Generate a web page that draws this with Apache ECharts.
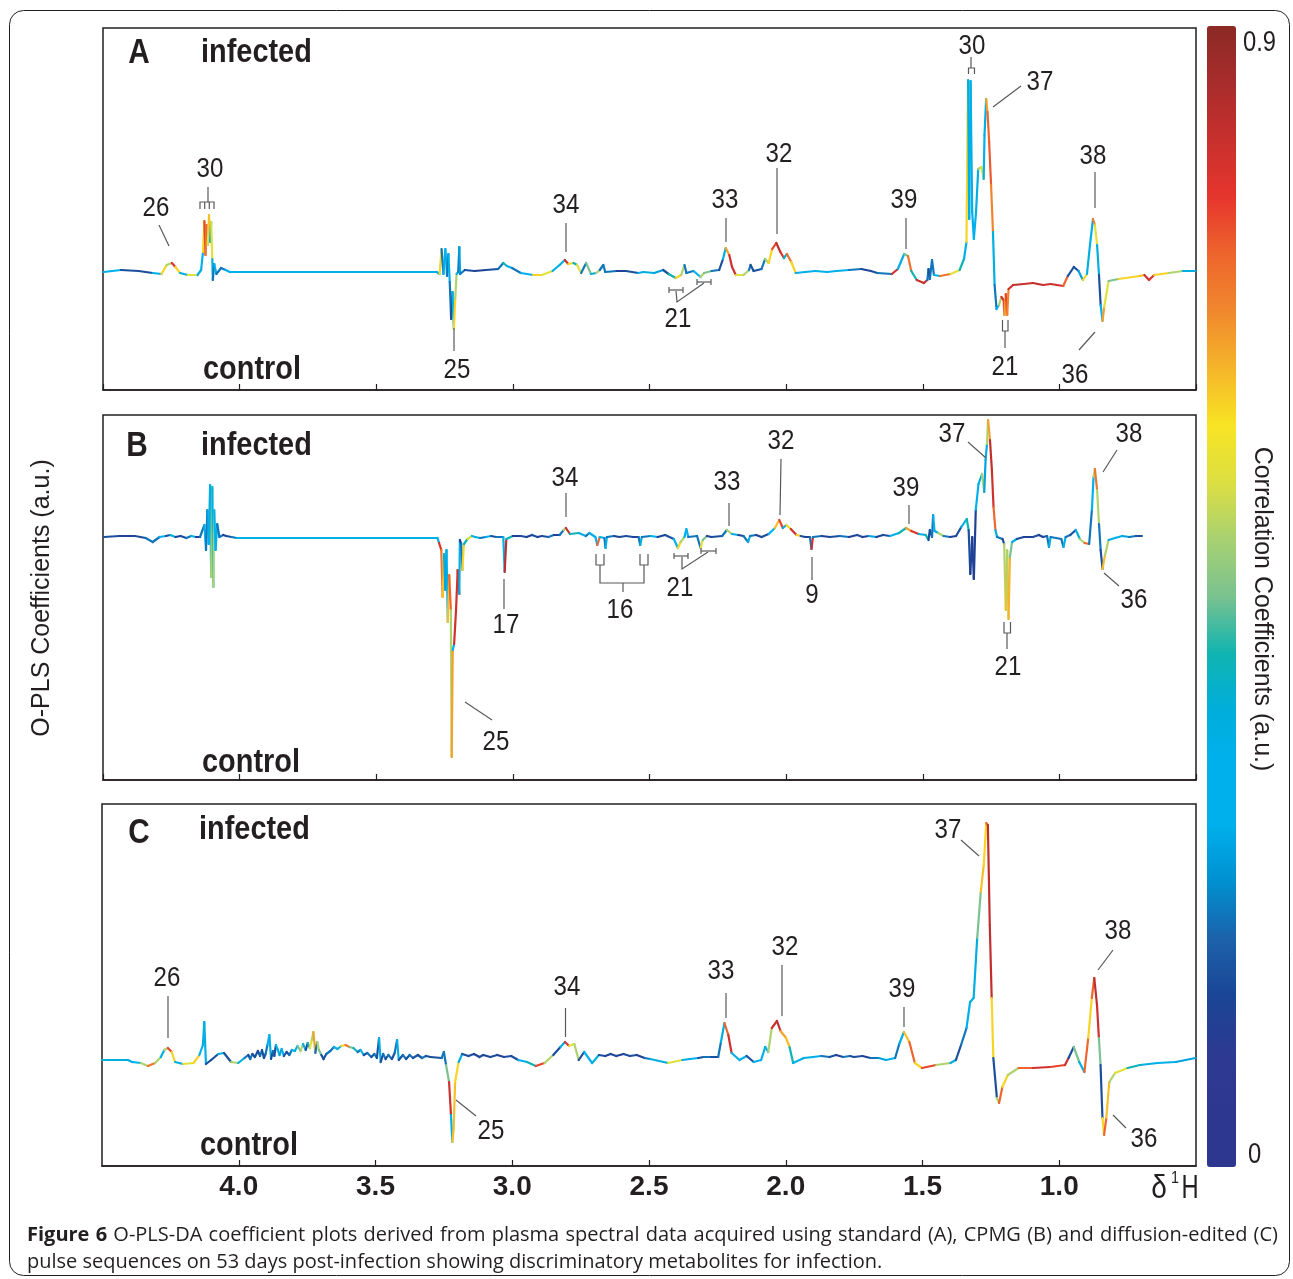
<!DOCTYPE html>
<html>
<head>
<meta charset="utf-8">
<title>O-PLS-DA coefficient plots</title>
<script src="https://cdn.jsdelivr.net/npm/echarts@6/dist/echarts.min.js"></script>
<style>
  html, body { margin: 0; padding: 0; background: #fff; }
  #chart { width: 1293px; height: 1279px; }
</style>
</head>
<body>
<div id="chart"></div>
<script>
// each point: [chemical shift (ppm), O-PLS coefficient (a.u.), correlation coefficient]
const SPEC_A = [
  [4.498,0.00,0.30],[4.434,0.02,0.15],[4.370,0.01,0.15],[4.318,-0.01,0.30],[4.286,-0.02,0.60],[4.267,0.07,0.50],
  [4.248,0.09,0.78],[4.235,0.05,0.60],[4.218,-0.01,0.35],[4.190,-0.03,0.55],[4.154,-0.03,0.35],[4.141,0.02,0.30],
  [4.134,0.20,0.60],[4.129,0.51,0.75],[4.125,0.17,0.70],[4.121,0.47,0.72],[4.117,0.27,0.55],[4.112,0.57,0.62],
  [4.108,0.30,0.33],[4.104,0.50,0.55],[4.100,0.13,0.35],[4.098,-0.08,0.20],[4.093,0.08,0.30],[4.085,-0.02,0.20],
  [4.068,0.04,0.20],[4.051,0.02,0.30],[4.036,0.00,0.33],[3.279,0.00,0.33],[3.268,-0.02,0.60],[3.261,0.23,0.20],
  [3.254,-0.02,0.30],[3.247,0.23,0.30],[3.241,-0.04,0.20],[3.236,0.18,0.33],[3.231,-0.10,0.20],[3.226,-0.47,0.15],
  [3.221,-0.20,0.35],[3.216,-0.57,0.60],[3.211,-0.27,0.50],[3.206,-0.02,0.33],[3.200,0.00,0.20],[3.196,0.25,0.25],
  [3.193,-0.02,0.20],[3.176,0.02,0.15],[3.140,0.01,0.12],[3.099,0.02,0.15],[3.054,0.03,0.20],[3.035,0.09,0.40],
  [3.022,0.06,0.30],[3.003,0.04,0.20],[2.971,-0.01,0.30],[2.926,-0.03,0.60],[2.894,-0.03,0.55],[2.855,0.01,0.33],
  [2.829,0.07,0.35],[2.810,0.12,0.80],[2.797,0.08,0.60],[2.778,0.09,0.40],[2.765,0.07,0.55],[2.750,-0.01,0.20],
  [2.732,0.09,0.45],[2.714,-0.02,0.35],[2.695,-0.01,0.50],[2.682,0.02,0.20],[2.669,0.07,0.20],[2.662,0.00,0.20],
  [2.620,0.01,0.12],[2.586,0.01,0.15],[2.541,-0.01,0.30],[2.522,0.00,0.35],[2.483,-0.01,0.25],[2.450,0.02,0.15],
  [2.430,-0.02,0.40],[2.404,-0.06,0.60],[2.384,-0.03,0.50],[2.372,0.07,0.20],[2.365,-0.01,0.20],[2.339,0.01,0.30],
  [2.313,-0.05,0.50],[2.300,-0.01,0.45],[2.273,0.01,0.20],[2.245,0.02,0.15],[2.231,0.13,0.35],[2.221,0.24,0.65],
  [2.208,0.17,0.80],[2.198,0.05,0.80],[2.184,-0.03,0.55],[2.156,-0.03,0.50],[2.136,0.02,0.20],[2.130,0.07,0.15],
  [2.119,0.01,0.15],[2.090,0.03,0.20],[2.077,0.13,0.50],[2.064,0.09,0.60],[2.051,0.23,0.75],[2.036,0.29,0.82],
  [2.021,0.20,0.78],[2.008,0.14,0.38],[1.997,0.18,0.70],[1.981,0.10,0.60],[1.965,-0.01,0.33],[1.930,0.00,0.30],
  [1.894,0.01,0.33],[1.850,0.00,0.30],[1.816,0.01,0.33],[1.770,0.02,0.20],[1.725,0.03,0.12],[1.690,0.01,0.15],
  [1.666,-0.01,0.20],[1.613,-0.02,0.80],[1.591,0.03,0.35],[1.568,0.18,0.45],[1.554,0.16,0.70],[1.542,0.01,0.40],
  [1.522,-0.08,0.80],[1.496,-0.11,0.82],[1.483,-0.08,0.20],[1.479,0.03,0.15],[1.474,-0.07,0.20],[1.466,0.12,0.20],
  [1.459,-0.03,0.30],[1.437,-0.04,0.70],[1.398,-0.02,0.55],[1.365,0.02,0.40],[1.349,0.13,0.33],[1.340,0.30,0.60],
  [1.336,1.47,0.60],[1.334,1.92,0.35],[1.330,0.53,0.33],[1.325,1.91,0.33],[1.319,0.60,0.33],[1.313,0.33,0.30],
  [1.305,0.60,0.35],[1.297,1.03,0.50],[1.285,1.05,0.55],[1.277,0.93,0.30],[1.274,1.37,0.35],[1.268,1.73,0.65],
  [1.263,1.60,0.72],[1.257,1.30,0.73],[1.250,0.87,0.68],[1.243,0.40,0.35],[1.237,-0.13,0.20],[1.230,-0.37,0.30],
  [1.221,-0.33,0.50],[1.212,-0.25,0.80],[1.204,-0.28,0.75],[1.201,-0.43,0.65],[1.196,-0.22,0.75],[1.191,-0.43,0.68],
  [1.186,-0.17,0.80],[1.169,-0.13,0.82],[1.130,-0.12,0.80],[1.097,-0.11,0.82],[1.060,-0.13,0.80],[1.032,-0.12,0.80],
  [0.986,-0.14,0.72],[0.969,-0.04,0.15],[0.947,0.05,0.15],[0.930,0.01,0.25],[0.914,-0.08,0.60],[0.899,-0.02,0.35],
  [0.888,0.27,0.33],[0.877,0.53,0.68],[0.870,0.47,0.55],[0.862,0.27,0.35],[0.855,-0.03,0.15],[0.849,-0.33,0.30],
  [0.842,-0.49,0.65],[0.836,-0.35,0.55],[0.820,-0.09,0.45],[0.783,-0.07,0.60],[0.705,-0.04,0.62],[0.689,-0.03,0.80],
  [0.672,-0.08,0.78],[0.653,-0.03,0.60],[0.600,-0.01,0.50],[0.548,0.01,0.35],[0.502,0.01,0.33]
];

const SPEC_B = [
  [4.496,0.00,0.15],[4.440,0.01,0.12],[4.383,0.01,0.15],[4.344,-0.01,0.20],[4.318,-0.05,0.20],[4.293,0.00,0.30],
  [4.270,0.01,0.15],[4.254,0.02,0.35],[4.235,0.00,0.12],[4.216,0.01,0.15],[4.195,-0.01,0.20],[4.177,0.01,0.30],
  [4.160,0.00,0.12],[4.145,0.00,0.20],[4.129,0.12,0.30],[4.123,-0.13,0.20],[4.118,0.27,0.25],[4.113,-0.07,0.33],
  [4.108,0.52,0.33],[4.104,-0.40,0.50],[4.100,0.50,0.33],[4.096,-0.50,0.50],[4.093,0.27,0.30],[4.088,-0.13,0.33],
  [4.082,0.13,0.20],[4.074,0.00,0.20],[4.060,0.02,0.12],[4.049,0.01,0.15],[4.030,0.00,0.20],[4.010,-0.01,0.33],
  [3.276,-0.01,0.33],[3.270,-0.06,0.78],[3.262,-0.13,0.70],[3.257,-0.60,0.62],[3.252,-0.17,0.35],[3.247,-0.53,0.25],
  [3.243,-0.13,0.33],[3.238,-0.85,0.62],[3.233,-0.38,0.72],[3.227,-0.73,0.50],[3.224,-2.20,0.65],[3.220,-1.13,0.33],
  [3.215,-1.07,0.80],[3.208,-0.73,0.80],[3.202,-0.33,0.80],[3.196,-0.57,0.33],[3.194,-0.03,0.12],[3.189,-0.07,0.20],
  [3.185,-0.33,0.60],[3.179,-0.07,0.40],[3.166,-0.02,0.55],[3.150,0.01,0.30],[3.138,0.00,0.35],[3.120,-0.01,0.20],
  [3.099,0.00,0.30],[3.080,0.01,0.15],[3.061,0.00,0.20],[3.035,0.00,0.33],[3.030,-0.35,0.82],[3.024,-0.02,0.40],
  [3.000,0.01,0.12],[2.971,0.01,0.15],[2.950,0.00,0.12],[2.930,0.02,0.15],[2.910,0.00,0.12],[2.894,0.01,0.15],
  [2.870,0.00,0.20],[2.850,0.02,0.12],[2.829,0.02,0.20],[2.814,0.07,0.50],[2.806,0.09,0.82],[2.791,0.03,0.40],
  [2.759,0.04,0.35],[2.733,0.01,0.20],[2.720,0.04,0.33],[2.698,0.00,0.30],[2.691,-0.08,0.72],[2.682,0.00,0.30],
  [2.665,-0.01,0.20],[2.661,-0.11,0.33],[2.656,0.00,0.20],[2.630,0.01,0.12],[2.610,0.00,0.15],[2.586,0.01,0.15],
  [2.560,0.00,0.12],[2.540,0.00,0.20],[2.534,-0.08,0.35],[2.528,0.00,0.20],[2.496,0.01,0.30],[2.470,0.00,0.12],
  [2.443,0.02,0.15],[2.411,-0.02,0.30],[2.396,-0.11,0.60],[2.386,-0.05,0.50],[2.372,0.00,0.30],[2.365,0.08,0.33],
  [2.358,0.00,0.20],[2.326,0.01,0.20],[2.313,-0.11,0.55],[2.305,-0.03,0.45],[2.290,0.01,0.12],[2.273,0.00,0.15],
  [2.234,0.01,0.20],[2.217,0.07,0.50],[2.198,0.03,0.33],[2.175,0.02,0.12],[2.156,0.01,0.20],[2.139,-0.05,0.33],
  [2.132,0.01,0.20],[2.110,0.02,0.12],[2.090,0.00,0.15],[2.064,0.03,0.30],[2.041,0.09,0.62],[2.025,0.17,0.75],
  [2.012,0.09,0.35],[1.999,0.12,0.60],[1.983,0.08,0.80],[1.962,0.02,0.60],[1.947,0.01,0.15],[1.930,0.00,0.12],
  [1.913,0.00,0.20],[1.907,-0.12,0.80],[1.902,0.00,0.20],[1.870,0.01,0.12],[1.840,0.00,0.15],[1.803,0.01,0.20],
  [1.770,0.00,0.12],[1.740,0.02,0.15],[1.720,0.00,0.12],[1.698,0.01,0.25],[1.670,0.00,0.12],[1.645,0.02,0.15],
  [1.620,0.01,0.30],[1.587,0.04,0.40],[1.561,0.09,0.65],[1.542,0.06,0.78],[1.515,0.03,0.35],[1.489,0.02,0.40],
  [1.479,-0.03,0.15],[1.474,0.07,0.15],[1.466,0.00,0.20],[1.462,0.22,0.33],[1.457,0.06,0.33],[1.443,0.04,0.50],
  [1.424,0.01,0.20],[1.400,0.00,0.12],[1.378,0.01,0.15],[1.359,0.10,0.33],[1.339,0.18,0.40],[1.332,0.07,0.15],
  [1.326,-0.37,0.12],[1.319,0.00,0.12],[1.313,-0.42,0.12],[1.306,0.27,0.30],[1.296,0.53,0.35],[1.283,0.63,0.50],
  [1.275,0.45,0.25],[1.270,0.77,0.35],[1.265,0.93,0.50],[1.261,1.17,0.65],[1.254,0.97,0.82],[1.247,0.67,0.80],
  [1.241,0.30,0.72],[1.234,0.07,0.35],[1.228,0.00,0.20],[1.208,-0.02,0.15],[1.202,-0.07,0.50],[1.196,-0.73,0.62],
  [1.191,-0.13,0.50],[1.186,-0.82,0.63],[1.181,-0.20,0.45],[1.173,-0.05,0.33],[1.156,-0.02,0.15],[1.130,0.00,0.12],
  [1.097,0.00,0.15],[1.075,0.02,0.12],[1.060,0.00,0.15],[1.045,0.01,0.20],[1.038,-0.10,0.35],[1.032,0.00,0.20],
  [0.993,-0.02,0.20],[0.985,-0.10,0.33],[0.977,0.00,0.20],[0.960,0.02,0.15],[0.940,0.07,0.35],[0.925,-0.02,0.50],
  [0.908,-0.06,0.72],[0.891,-0.07,0.20],[0.881,0.27,0.30],[0.875,0.60,0.50],[0.870,0.68,0.70],[0.862,0.47,0.50],
  [0.855,0.13,0.20],[0.849,-0.13,0.15],[0.842,-0.32,0.62],[0.833,-0.18,0.50],[0.820,-0.03,0.33],[0.796,-0.01,0.30],
  [0.770,0.01,0.25],[0.744,0.00,0.20],[0.720,0.01,0.15],[0.698,0.01,0.20]
];

const SPEC_C = [
  [4.500,0.00,0.35],[4.405,0.00,0.35],[4.390,-0.02,0.30],[4.358,-0.03,0.50],[4.332,-0.06,0.70],[4.306,-0.03,0.50],
  [4.285,0.03,0.35],[4.272,0.10,0.50],[4.259,0.12,0.75],[4.245,0.08,0.60],[4.233,-0.02,0.35],[4.204,-0.04,0.55],
  [4.165,-0.03,0.60],[4.144,0.05,0.30],[4.131,0.15,0.35],[4.126,0.38,0.33],[4.120,-0.04,0.15],[4.101,0.00,0.15],
  [4.075,0.06,0.30],[4.054,0.07,0.15],[4.028,-0.02,0.50],[4.002,-0.03,0.35],[3.979,0.02,0.20],[3.965,0.05,0.15],
  [3.958,0.01,0.20],[3.950,0.06,0.15],[3.941,0.03,0.15],[3.930,0.09,0.15],[3.922,0.04,0.20],[3.915,0.10,0.15],
  [3.908,0.02,0.15],[3.902,0.06,0.20],[3.895,0.15,0.30],[3.888,0.25,0.33],[3.882,0.01,0.15],[3.875,0.09,0.20],
  [3.870,0.04,0.15],[3.864,0.15,0.33],[3.857,0.10,0.30],[3.851,0.05,0.25],[3.843,0.11,0.33],[3.835,0.04,0.15],
  [3.825,0.08,0.15],[3.815,0.05,0.20],[3.806,0.10,0.30],[3.795,0.09,0.35],[3.785,0.14,0.45],[3.774,0.09,0.50],
  [3.765,0.16,0.35],[3.755,0.10,0.15],[3.748,0.17,0.40],[3.740,0.12,0.55],[3.733,0.20,0.50],[3.727,0.28,0.65],
  [3.720,0.07,0.20],[3.713,0.18,0.50],[3.707,0.10,0.45],[3.698,0.05,0.15],[3.690,0.01,0.15],[3.680,0.06,0.20],
  [3.665,0.09,0.20],[3.652,0.13,0.35],[3.639,0.11,0.35],[3.625,0.14,0.60],[3.610,0.15,0.70],[3.595,0.13,0.45],
  [3.581,0.12,0.40],[3.565,0.08,0.20],[3.555,0.10,0.30],[3.543,0.05,0.15],[3.530,0.07,0.20],[3.515,0.03,0.15],
  [3.504,0.06,0.20],[3.495,0.02,0.15],[3.487,0.22,0.33],[3.481,-0.02,0.15],[3.472,0.06,0.20],[3.463,0.01,0.15],
  [3.453,0.05,0.20],[3.440,0.01,0.15],[3.430,0.07,0.20],[3.421,0.20,0.33],[3.415,0.00,0.15],[3.400,0.05,0.20],
  [3.388,0.01,0.15],[3.375,0.05,0.20],[3.363,0.02,0.15],[3.345,0.05,0.15],[3.330,0.02,0.20],[3.315,0.04,0.15],
  [3.299,0.03,0.15],[3.258,0.02,0.20],[3.250,0.08,0.20],[3.242,-0.05,0.45],[3.231,-0.22,0.80],[3.224,-0.55,0.33],
  [3.219,-0.82,0.62],[3.214,-0.68,0.62],[3.209,-0.22,0.60],[3.196,-0.02,0.35],[3.183,0.06,0.15],[3.160,0.04,0.15],
  [3.140,0.06,0.12],[3.120,0.03,0.15],[3.106,0.05,0.12],[3.080,0.03,0.15],[3.055,0.05,0.12],[3.030,0.03,0.15],
  [3.004,0.04,0.15],[2.978,0.00,0.30],[2.946,-0.02,0.40],[2.914,-0.06,0.75],[2.882,-0.03,0.50],[2.850,0.05,0.15],
  [2.824,0.13,0.35],[2.807,0.18,0.78],[2.792,0.14,0.55],[2.773,0.16,0.50],[2.757,0.00,0.15],[2.737,0.08,0.30],
  [2.708,-0.03,0.35],[2.683,0.05,0.15],[2.660,0.04,0.12],[2.640,0.06,0.15],[2.620,0.04,0.12],[2.593,0.06,0.15],
  [2.570,0.04,0.15],[2.545,0.05,0.12],[2.516,0.02,0.20],[2.496,0.01,0.35],[2.430,-0.03,0.55],[2.378,0.00,0.35],
  [2.350,0.01,0.30],[2.320,0.02,0.15],[2.300,0.03,0.20],[2.273,0.03,0.15],[2.247,0.03,0.20],[2.237,0.18,0.35],
  [2.224,0.37,0.72],[2.210,0.25,0.80],[2.198,0.07,0.35],[2.169,0.00,0.30],[2.143,0.04,0.15],[2.117,-0.02,0.30],
  [2.090,0.00,0.30],[2.075,0.13,0.35],[2.064,0.08,0.50],[2.051,0.32,0.80],[2.032,0.39,0.82],[2.019,0.29,0.65],
  [1.999,0.22,0.62],[1.986,0.13,0.40],[1.973,-0.03,0.33],[1.934,0.02,0.35],[1.900,0.03,0.30],[1.870,0.04,0.20],
  [1.840,0.03,0.15],[1.816,0.05,0.12],[1.790,0.03,0.20],[1.765,0.04,0.15],[1.751,0.03,0.15],[1.720,0.04,0.12],
  [1.690,0.02,0.20],[1.660,0.02,0.25],[1.633,0.00,0.30],[1.600,0.02,0.20],[1.585,0.16,0.35],[1.568,0.28,0.62],
  [1.548,0.18,0.72],[1.528,-0.03,0.60],[1.502,-0.08,0.75],[1.450,-0.05,0.50],[1.398,-0.03,0.35],[1.378,0.00,0.15],
  [1.359,0.15,0.20],[1.339,0.32,0.30],[1.326,0.58,0.33],[1.313,0.62,0.35],[1.300,1.22,0.45],[1.287,1.68,0.62],
  [1.276,1.95,0.60],[1.267,2.37,0.72],[1.261,2.35,0.82],[1.254,1.35,0.82],[1.247,0.62,0.60],[1.241,0.02,0.15],
  [1.228,-0.38,0.50],[1.220,-0.43,0.72],[1.208,-0.27,0.60],[1.188,-0.15,0.50],[1.149,-0.08,0.72],[1.097,-0.08,0.80],
  [1.032,-0.07,0.75],[0.979,-0.05,0.80],[0.966,0.02,0.15],[0.947,0.13,0.45],[0.927,-0.02,0.35],[0.908,-0.12,0.72],
  [0.894,0.22,0.60],[0.881,0.62,0.72],[0.872,0.82,0.82],[0.862,0.55,0.80],[0.855,0.22,0.45],[0.849,-0.05,0.15],
  [0.842,-0.58,0.60],[0.836,-0.75,0.72],[0.828,-0.58,0.62],[0.817,-0.22,0.50],[0.796,-0.13,0.55],[0.750,-0.08,0.40],
  [0.705,-0.05,0.35],[0.640,-0.03,0.30],[0.574,-0.02,0.25],[0.502,0.02,0.25]
];

const TICK_LABELS = ['4.0', '3.5', '3.0', '2.5', '2.0', '1.5', '1.0'];
const CORR_LABELS = ['0.9', '0'];
const PANEL_NAMES = ['A', 'B', 'C'];
const CAPTION = [
  'Figure 6 O-PLS-DA coefficient plots derived from plasma spectral data acquired using standard (A), CPMG (B) and diffusion-edited (C)',
  'pulse sequences on 53 days post-infection showing discriminatory metabolites for infection.'
];

const INK = '#231f20';
const LEAD = '#58595b';
const SANS = '"Liberation Sans", Arial, sans-serif';
const CAPTION_FONT = '"Open Sans", "Noto Sans", sans-serif';

// jet-like colour scale, 0 -> 0.9
const JET = ['#2e3790', '#2e3790', '#2d3a92', '#1a4596', '#1c62aa', '#0090d0', '#00b0ec',
  '#00b0ec', '#00aedc', '#10b4b0', '#7ac290', '#a8d172', '#dcdf42', '#f8e424', '#f5b52a',
  '#f0882d', '#ee652d', '#e6352d', '#c8302d', '#a82c2c', '#8b2a24'];

const chart = echarts.init(document.getElementById('chart'));

const grids = [
  { left: 103, top: 28, width: 1093, height: 362 },
  { left: 103, top: 415, width: 1093, height: 365 },
  { left: 102, top: 804, width: 1094, height: 362 }
];
const yRanges = [[-1.18, 2.44], [-2.43, 1.22], [-1.06, 2.56]];
const specs = [SPEC_A, SPEC_B, SPEC_C];

// one short line per pair of neighbouring points, coloured by correlation
function segments(spec) {
  return function (params, api) {
    const i = params.dataIndex;
    if (i >= spec.length - 1) return null;
    const p0 = api.coord([spec[i][0], spec[i][1]]);
    const p1 = api.coord([spec[i + 1][0], spec[i + 1][1]]);
    return {
      type: 'line',
      shape: { x1: p0[0], y1: p0[1], x2: p1[0], y2: p1[1] },
      style: { stroke: api.visual('color'), lineWidth: 2.2, lineCap: 'round' }
    };
  };
}

// condensed look: Liberation Sans squeezed horizontally
function text(x, y, s, size, opts) {
  opts = opts || {};
  const align = opts.align || 'center';
  return {
    type: 'text', x: x, y: y, z: 100,
    rotation: opts.rotation || 0,
    scaleX: opts.squeeze || 1,
    style: {
      text: s, fill: INK, fontSize: size,
      fontWeight: opts.weight || 'normal',
      fontFamily: opts.family || SANS,
      align: align, verticalAlign: 'middle',
      textAlign: align, textVerticalAlign: 'middle'
    }
  };
}

function path(points, color) {
  return {
    type: 'polyline', z: 100, shape: { points: points },
    style: { stroke: color || LEAD, lineWidth: 1.2, fill: null }
  };
}

// peak labels: [x, y, label]
const peakLabels = [
  [156, 208, '26'], [210, 169, '30'], [457, 370, '25'], [566, 205, '34'], [678, 319, '21'],
  [725, 200, '33'], [779, 154, '32'], [904, 200, '39'], [972, 46, '30'], [1040, 82, '37'],
  [1093, 156, '38'], [1005, 367, '21'], [1075, 375, '36'],
  [565, 478, '34'], [506, 625, '17'], [496, 742, '25'], [620, 610, '16'], [680, 588, '21'],
  [727, 482, '33'], [781, 441, '32'], [812, 595, '9'], [906, 488, '39'], [952, 434, '37'],
  [1129, 434, '38'], [1134, 600, '36'], [1008, 667, '21'],
  [167, 978, '26'], [567, 987, '34'], [491, 1131, '25'], [721, 971, '33'], [785, 947, '32'],
  [902, 989, '39'], [948, 830, '37'], [1118, 931, '38'], [1144, 1139, '36']
];

const leaders = [
  // A
  [[159, 225], [169, 246]],
  [[208, 187], [208, 202]], [[200, 209], [200, 202], [214, 202], [214, 209]],
  [[204.7, 202], [204.7, 209]], [[209.3, 202], [209.3, 209]],
  [[454, 328], [454, 351]],
  [[566, 223], [566, 252]],
  [[669, 290], [683, 290]], [[669, 287], [669, 293]], [[683, 287], [683, 293]],
  [[697, 282], [711, 282]], [[697, 279], [697, 285]], [[711, 279], [711, 285]],
  [[676, 291], [677, 302], [704, 283]],
  [[726, 218], [726, 242]],
  [[777, 168], [777, 234]],
  [[906, 218], [906, 249]],
  [[971, 57], [971, 68]], [[968.5, 74], [968.5, 68], [974.5, 68], [974.5, 74]],
  [[1021, 86], [993, 107]],
  [[1095, 172], [1095, 208]],
  [[1002.5, 320], [1002.5, 331], [1008, 331], [1008, 320]], [[1005, 331], [1005, 348]],
  [[1079, 350], [1095, 332]],
  // B
  [[566, 493], [566, 517]],
  [[504, 579], [504, 609]],
  [[465, 702], [492, 720]],
  [[596, 554], [596, 565], [604, 565], [604, 554]], [[600, 565], [600, 583], [644, 583], [644, 565]],
  [[640, 554], [640, 565], [648, 565], [648, 554]], [[623, 583], [623, 592]],
  [[674, 556], [688, 556]], [[674, 553], [674, 559]], [[688, 553], [688, 559]],
  [[701, 551], [716, 551]], [[701, 548], [701, 554]], [[716, 548], [716, 554]],
  [[682, 557], [682, 569], [708, 552]],
  [[729, 503], [729, 526]],
  [[781, 459], [780, 515]],
  [[812, 557], [812, 580]],
  [[909, 505], [909, 524]],
  [[968, 442], [986, 458]],
  [[1117, 450], [1103, 472]],
  [[1104, 573], [1119, 586]],
  [[1004, 622], [1004, 633], [1010.5, 633], [1010.5, 622]], [[1007, 633], [1007, 649]],
  // C
  [[168, 996], [168, 1038]],
  [[565.5, 1008], [565.5, 1037]],
  [[456, 1100], [476, 1116]],
  [[726, 993], [726, 1018]],
  [[782, 965], [782, 1016]],
  [[904, 1007], [904, 1027]],
  [[961, 840], [979, 856]],
  [[1113, 950], [1098, 970]],
  [[1113, 1115], [1126, 1128]]
];

const panelText = [
  { letter: [139, 53], infected: [201, 53], control: [203, 370] },
  { letter: [137, 446], infected: [201, 446], control: [202, 763] },
  { letter: [139, 833], infected: [199, 830], control: [200, 1146] }
];

const graphics = [
  {
    type: 'rect', z: 0, silent: true,
    shape: { x: 9.5, y: 10.5, width: 1280, height: 1265, r: 14 },
    style: { fill: null, stroke: INK, lineWidth: 1 }
  }
];
panelText.forEach(function (p, k) {
  graphics.push(text(p.letter[0], p.letter[1], PANEL_NAMES[k], 35, { weight: 'bold', squeeze: 0.85 }));
  graphics.push(text(p.infected[0], p.infected[1], 'infected', 34, { weight: 'bold', align: 'left', squeeze: 0.85 }));
  graphics.push(text(p.control[0], p.control[1], 'control', 34, { weight: 'bold', align: 'left', squeeze: 0.85 }));
});
peakLabels.forEach(function (l) { graphics.push(text(l[0], l[1], l[2], 28, { squeeze: 0.86 })); });
leaders.forEach(function (pts) { graphics.push(path(pts)); });

graphics.push(text(42, 598, 'O-PLS Coefficients (a.u.)', 25, { rotation: Math.PI / 2 }));
graphics.push(text(1262, 609, 'Correlation Coefficients (a.u.)', 25, { rotation: -Math.PI / 2 }));
graphics.push(text(1243, 43, CORR_LABELS[0], 29, { align: 'left', squeeze: 0.82 }));
graphics.push(text(1248, 1155, CORR_LABELS[1], 29, { align: 'left', squeeze: 0.82 }));
graphics.push(text(1159, 1189, 'δ', 33, { squeeze: 0.85 }));
graphics.push(text(1175, 1178, '1', 17, { squeeze: 0.85 }));
graphics.push(text(1190, 1189, 'H', 33, { squeeze: 0.72 }));

// caption: first line justified between x = 27 and x = 1278, "Figure 6" in bold
const measureCtx = document.createElement('canvas').getContext('2d');
function wordWidth(w, bold) {
  measureCtx.font = (bold ? 'bold ' : '') + '20px ' + CAPTION_FONT;
  return measureCtx.measureText(w).width;
}
(function () {
  const words = CAPTION[0].split(' ');
  const widths = words.map(function (w, i) { return wordWidth(w, i < 2); });
  const total = widths.reduce(function (a, b) { return a + b; }, 0);
  const gap = (1278 - 27 - total) / (words.length - 1);
  let x = 27;
  words.forEach(function (w, i) {
    graphics.push(text(x, 1235, w, 20, { align: 'left', family: CAPTION_FONT, weight: i < 2 ? 'bold' : 'normal' }));
    x += widths[i] + gap;
  });
  graphics.push(text(27, 1262, CAPTION[1], 20, { align: 'left', family: CAPTION_FONT }));
})();

chart.setOption({
  backgroundColor: '#fff',
  animation: false,
  grid: grids.map(function (g) {
    return Object.assign({ show: true, borderColor: INK, borderWidth: 1.5, backgroundColor: 'transparent' }, g);
  }),
  xAxis: grids.map(function (g, k) {
    return {
      type: 'value', gridIndex: k, min: 0.5, max: 4.5, interval: 0.5, inverse: true,
      axisLine: { show: true, onZero: false, lineStyle: { color: INK, width: 1.5 } },
      axisTick: { show: true, inside: true, length: 6, lineStyle: { color: INK, width: 1.2 } },
      splitLine: { show: false },
      axisLabel: {
        show: k === 2, margin: 21, verticalAlign: 'middle',
        color: INK, fontSize: 28, fontWeight: 'bold', fontFamily: SANS,
        showMinLabel: false, showMaxLabel: false,
        formatter: function (v) {
          const s = v.toFixed(1);
          return TICK_LABELS.indexOf(s) >= 0 ? s : '';
        }
      }
    };
  }),
  yAxis: yRanges.map(function (r, k) {
    return { type: 'value', gridIndex: k, min: r[0], max: r[1], show: false, splitLine: { show: false } };
  }),
  visualMap: {
    type: 'continuous', min: 0, max: 0.9, dimension: 2, seriesIndex: [0, 1, 2],
    orient: 'vertical', left: 1207, top: 26, itemWidth: 29, itemHeight: 1141,
    padding: 0, calculable: false, hoverLink: false, text: null,
    inRange: { color: JET }
  },
  series: specs.map(function (spec, k) {
    return {
      type: 'custom', name: PANEL_NAMES[k], xAxisIndex: k, yAxisIndex: k,
      dimensions: ['ppm', 'coefficient', 'correlation'],
      encode: { x: 0, y: 1 },
      data: spec, renderItem: segments(spec), silent: true
    };
  }),
  graphic: graphics
});
</script>
</body>
</html>
